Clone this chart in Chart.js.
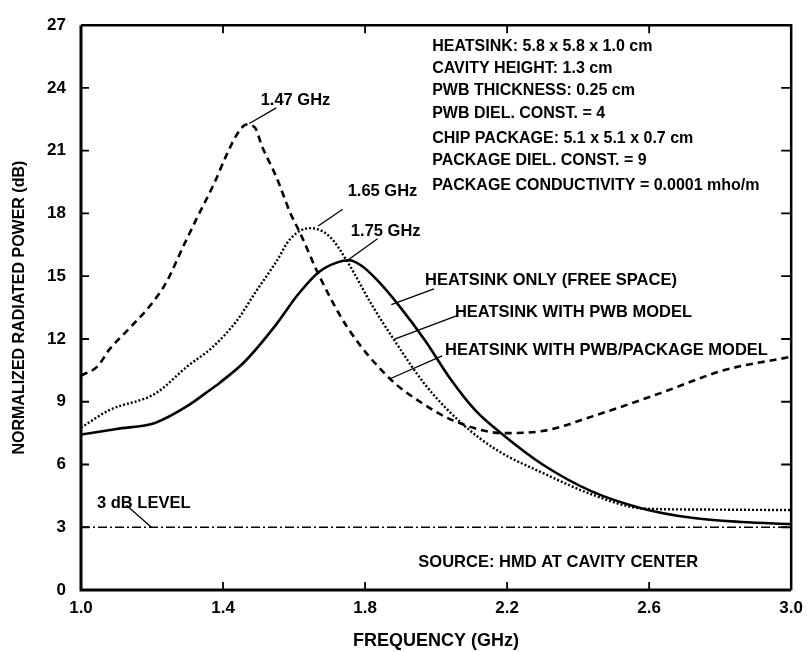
<!DOCTYPE html>
<html>
<head>
<meta charset="utf-8">
<script src="https://cdn.jsdelivr.net/npm/chart.js@4/dist/chart.umd.min.js"></script>
<style>
html,body{margin:0;padding:0;background:#fff;}
#c{display:block;}
</style>
</head>
<body>
<canvas id="c" width="811" height="652"></canvas>
<script>
// ---- data ----
const freqFree = [1.0,1.1,1.21,1.30,1.35,1.39,1.46,1.55,1.61,1.67,1.72,1.755,1.79,1.835,1.90,1.97,2.04,2.11,2.19,2.30,2.44,2.58,2.72,2.86,3.0];
const powerFree = [7.43,7.7,8.0,8.8,9.4,9.9,10.9,12.7,14.1,15.2,15.65,15.76,15.5,14.8,13.5,11.9,10.1,8.6,7.4,6.0,4.7,3.9,3.45,3.25,3.15];

const freqPwb = [1.0,1.08,1.21,1.30,1.37,1.44,1.49,1.55,1.59,1.645,1.70,1.75,1.82,1.88,1.97,2.07,2.17,2.30,2.44,2.58,2.72,3.0];
const powerPwb = [7.76,8.6,9.4,10.7,11.6,12.9,14.2,15.7,16.8,17.3,16.9,15.7,13.6,12.0,9.8,8.0,6.7,5.6,4.56,3.9,3.85,3.82];

const freqPkg = [1.0,1.047,1.08,1.13,1.195,1.24,1.29,1.33,1.374,1.41,1.44,1.466,1.49,1.51,1.55,1.59,1.617,1.67,1.75,1.87,1.96,2.05,2.19,2.30,2.44,2.63,2.81,3.0];
const powerPkg = [10.25,10.7,11.5,12.4,13.6,14.7,16.5,17.9,19.4,20.8,21.8,22.25,22.1,21.2,19.75,18.0,17.07,15.05,12.56,10.1,8.94,8.09,7.5,7.6,8.3,9.4,10.5,11.15];

const freq3dB = [1.0,3.0];
const level3dB = [3,3];

const xTicks = [1.0,1.4,1.8,2.2,2.6,3.0];
const yTicks = [0,3,6,9,12,15,18,21,24,27];

const infoLines = [
  'HEATSINK: 5.8 x 5.8 x 1.0 cm',
  'CAVITY HEIGHT: 1.3 cm',
  'PWB THICKNESS: 0.25 cm',
  'PWB DIEL. CONST. = 4',
  'CHIP PACKAGE: 5.1 x 5.1 x 0.7 cm',
  'PACKAGE DIEL. CONST. = 9',
  'PACKAGE CONDUCTIVITY = 0.0001 mho/m'
];

// ---- annotation layout (data coordinates) ----
const FONT = '"Liberation Sans", Arial, sans-serif';
const notes = [
  {text:'1.47 GHz', at:[1.506,23.42], line:[[1.474,22.3],[1.55,23.05]]},
  {text:'1.65 GHz', at:[1.751,19.05], line:[[1.668,17.4],[1.737,18.2]]},
  {text:'1.75 GHz', at:[1.76,17.12], line:[[1.751,15.76],[1.835,16.79]]},
  {text:'HEATSINK ONLY (FREE SPACE)', at:[1.969,14.82], line:[[1.874,13.64],[1.994,14.39]]},
  {text:'HEATSINK WITH PWB MODEL', at:[2.053,13.26], line:[[1.883,11.99],[2.059,13.12]]},
  {text:'HEATSINK WITH PWB/PACKAGE MODEL', at:[2.025,11.43], line:[[1.872,10.11],[2.017,11.19]]},
  {text:'3 dB LEVEL', at:[1.045,4.14], line:[[1.128,4.05],[1.198,3.0]]},
  {text:'SOURCE: HMD AT CAVITY CENTER', at:[1.95,1.32], line:null}
];
const infoAt = [1.989, [26.0,24.93,23.85,22.77,21.59,20.51,19.33]];

function pts(xs, ys){ return xs.map((x,i)=>({x:x, y:ys[i]})); }

const framePlugin = {
  id:'frame',
  afterDatasetsDraw(chart){
    const ctx = chart.ctx, xs = chart.scales.x, ys = chart.scales.y;
    const a = chart.chartArea;
    ctx.save();
    ctx.strokeStyle = '#000';
    ctx.lineWidth = 3;
    ctx.beginPath();
    ctx.moveTo(a.left, a.top); ctx.lineTo(a.left, a.bottom); ctx.lineTo(a.right, a.bottom);
    ctx.stroke();
    ctx.lineWidth = 2.5;
    ctx.beginPath();
    ctx.moveTo(a.left, a.top); ctx.lineTo(a.right, a.top); ctx.lineTo(a.right, a.bottom);
    ctx.stroke();
    ctx.lineWidth = 1.8;
    ctx.beginPath();
    xTicks.slice(1,-1).forEach(v=>{
      const px = xs.getPixelForValue(v);
      ctx.moveTo(px, a.bottom); ctx.lineTo(px, a.bottom-8);
      ctx.moveTo(px, a.top); ctx.lineTo(px, a.top+8);
    });
    yTicks.slice(1,-1).forEach(v=>{
      const py = ys.getPixelForValue(v);
      ctx.moveTo(a.left, py); ctx.lineTo(a.left+8, py);
      ctx.moveTo(a.right, py); ctx.lineTo(a.right-10, py);
    });
    ctx.stroke();
    ctx.fillStyle = '#000';
    ctx.font = 'bold 16.5px ' + FONT;
    ctx.textBaseline = 'middle';
    ctx.textAlign = 'left';
    ctx.lineWidth = 1.3;
    notes.forEach(n=>{
      ctx.fillText(n.text, xs.getPixelForValue(n.at[0]), ys.getPixelForValue(n.at[1]));
      if (n.line){
        ctx.beginPath();
        ctx.moveTo(xs.getPixelForValue(n.line[0][0]), ys.getPixelForValue(n.line[0][1]));
        ctx.lineTo(xs.getPixelForValue(n.line[1][0]), ys.getPixelForValue(n.line[1][1]));
        ctx.stroke();
      }
    });
    ctx.font = 'bold 16px ' + FONT;
    infoLines.forEach((t,i)=>{
      ctx.fillText(t, xs.getPixelForValue(infoAt[0]), ys.getPixelForValue(infoAt[1][i]));
    });
    ctx.restore();
  }
};

new Chart(document.getElementById('c'), {
  type:'line',
  data:{
    datasets:[
      {label:'HEATSINK ONLY (FREE SPACE)', data:pts(freqFree,powerFree), borderColor:'#000', borderWidth:2.6, pointRadius:0, cubicInterpolationMode:'monotone', fill:false},
      {label:'HEATSINK WITH PWB MODEL', data:pts(freqPwb,powerPwb), borderColor:'#000', borderWidth:2.4, borderDash:[2,2], pointRadius:0, cubicInterpolationMode:'monotone', fill:false},
      {label:'HEATSINK WITH PWB/PACKAGE MODEL', data:pts(freqPkg,powerPkg), borderColor:'#000', borderWidth:2.6, borderDash:[7,5], pointRadius:0, cubicInterpolationMode:'monotone', fill:false},
      {label:'3 dB LEVEL', data:pts(freq3dB,level3dB), borderColor:'#000', borderWidth:1.6, borderDash:[9,3,2,3], pointRadius:0, fill:false}
    ]
  },
  options:{
    responsive:false,
    animation:false,
    devicePixelRatio:1,
    layout:{padding:{left:0,top:16,right:14,bottom:0}},
    plugins:{legend:{display:false}, tooltip:{enabled:false}},
    scales:{
      x:{
        type:'linear', min:1.0, max:3.0,
        afterBuildTicks(s){ s.ticks = xTicks.map(v=>({value:v})); },
        afterFit(s){ s.height = 62; },
        grid:{display:false, drawTicks:false},
        border:{display:false},
        ticks:{padding:8, color:'#000', font:{family:FONT, size:17, weight:'bold'}, callback:v=>Number(v).toFixed(1), maxRotation:0, autoSkip:false},
        title:{display:true, text:'FREQUENCY (GHz)', color:'#000', font:{family:FONT, size:18, weight:'bold'}, padding:{top:1,bottom:0}}
      },
      y:{
        type:'linear', min:0, max:27,
        afterBuildTicks(s){ s.ticks = yTicks.map(v=>({value:v})); },
        afterFit(s){ s.width = 81; },
        grid:{display:false, drawTicks:false},
        border:{display:false},
        ticks:{padding:15, color:'#000', font:{family:FONT, size:17, weight:'bold'}, autoSkip:false},
        title:{display:true, text:'NORMALIZED RADIATED POWER (dB)', color:'#000', font:{family:FONT, size:16, weight:'bold'}, padding:{top:10,bottom:0}}
      }
    }
  },
  plugins:[framePlugin]
});
</script>
</body>
</html>
